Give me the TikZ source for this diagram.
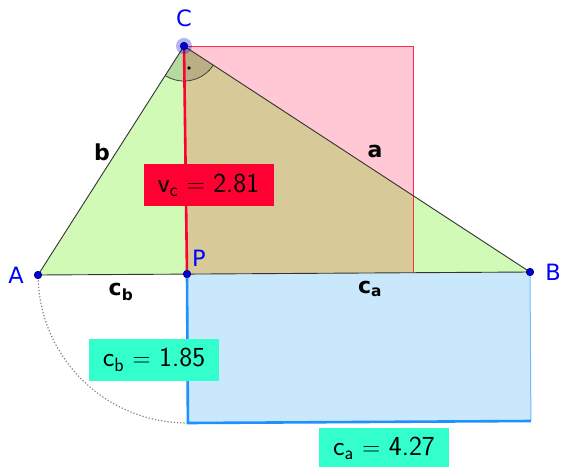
\documentclass[tikz,border=0pt]{standalone}
\usepackage{fontspec}
\newfontfamily\lblfont{DejaVu Sans}
\definecolor{trigreen}{RGB}{208,250,182}
\definecolor{sqpink}{RGB}{255,200,212}
\definecolor{sqtan}{RGB}{216,201,152}
\definecolor{rectblue}{RGB}{202,232,252}
\definecolor{edgered}{RGB}{255,40,80}
\definecolor{vcred}{RGB}{255,0,51}
\definecolor{turq}{RGB}{51,255,204}
\definecolor{bluethick}{RGB}{30,144,255}
\definecolor{bluethin}{RGB}{110,185,255}
\definecolor{ptblue}{RGB}{0,0,230}
\definecolor{ptlabel}{RGB}{0,0,255}
\begin{document}
\begin{tikzpicture}[x=1pt,y=-1pt,
  ptlbl/.style={text=ptlabel,font=\lblfont\fontsize{22.5}{26}\selectfont,inner sep=0},
  seglbl/.style={text=black,font=\lblfont\bfseries\fontsize{22}{25}\selectfont,inner sep=0},
  valbox/.style={font=\sffamily\fontsize{27.5}{30}\selectfont,minimum width=130pt,minimum height=42pt,inner sep=0,text=black},
  ptdot/.style={circle,fill=ptblue,draw=black!70!blue,line width=0.6pt,minimum size=7.5pt,inner sep=0},
  side/.style={draw=black!80,line width=0.9pt}]
\useasboundingbox (0,0) rectangle (562,466);
\coordinate (A) at (38,275);
\coordinate (B) at (530,272);
\coordinate (C) at (184,46);
\coordinate (P) at (187,274);
\coordinate (Q) at (413,46);
\coordinate (R) at (413,272.7);
\coordinate (S) at (413,195.6);
\coordinate (Bd) at (530.9,421);
\coordinate (Pd) at (187.9,423);
% fills
\fill[rectblue] (P) -- (B) -- (Bd) -- (Pd) -- cycle;
\fill[trigreen] (A) -- (B) -- (C) -- cycle;
\fill[sqpink] (C) -- (Q) -- (S) -- cycle;
\fill[sqtan] (C) -- (S) -- (R) -- (P) -- cycle;
% angle sector
\fill[black,opacity=0.13] (C) -- plot[domain=33.2:122.5,samples=40,variable=\t] ({184+35*cos(\t)},{46+35*sin(\t)}) -- cycle;
\draw[black!75,line width=0.8pt] plot[domain=33.2:122.5,samples=40,variable=\t] ({184+35*cos(\t)},{46+35*sin(\t)});
\fill[black] (189,68) circle[radius=1.8];
% square edges
\draw[edgered,line width=0.8pt] (C) -- (Q) -- (R);
% rectangle edges
\draw[bluethin,line width=1pt] (B) -- (Bd);
\draw[bluethick,line width=2.6pt] (P) -- (Pd) -- (Bd);
% triangle sides
\draw[side] (A) -- (C) -- (B) -- cycle;
% altitude
\draw[vcred,line width=2.6pt] (C) -- (P);
% dotted arc
\draw[gray,dotted,line width=1.2pt] plot[domain=180:270,samples=60,variable=\t] ({187+149*cos(\t)},{274-149*sin(\t)});
% points
\fill[ptblue,opacity=0.3] (C) circle[radius=8];
\node[ptdot] (nA) at (A) {};
\node[ptdot] (nB) at (B) {};
\node[ptdot] (nC) at (C) {};
\node[ptdot] (nP) at (P) {};
% labels
\node[ptlbl] (lC) at (184,18) {C};
\node[ptlbl] (lA) at (16,275) {A};
\node[ptlbl] (lB) at (553,272) {B};
\node[ptlbl] (lP) at (199,258) {P};
\node[seglbl] (lb) at (102,152) {b};
\node[seglbl] (la) at (375,151) {a};
\node[seglbl] (lcb) at (121,292) {c\textsubscript{b}};
\node[seglbl] (lca) at (370,289) {c\textsubscript{a}};
% value boxes
\node[valbox,fill=vcred] (vc) at (208.5,185) {v\textsubscript{c} $=$ 2.81};
\node[valbox,fill=turq] (cb) at (154,359.5) {c\textsubscript{b} $=$ 1.85};
\node[valbox,fill=turq] (ca) at (384,448.5) {c\textsubscript{a} $=$ 4.27};
\end{tikzpicture}
\end{document}
